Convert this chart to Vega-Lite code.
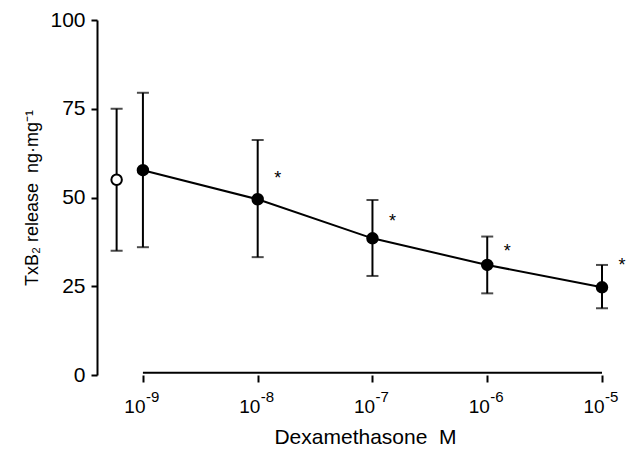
{
  "$schema": "https://vega.github.io/schema/vega-lite/v6.json",
  "autosize": "none",
  "width": 505,
  "height": 355,
  "padding": {"left": 97, "top": 20, "right": 25, "bottom": 74},
  "background": "white",
  "config": {
    "view": {"stroke": null},
    "font": "Liberation Sans",
    "axis": {"grid": false, "domainColor": "black", "tickColor": "black", "labelColor": "black", "titleColor": "black", "domainWidth": 2, "tickWidth": 2, "titleFontWeight": "normal"},
    "axisX": {"domain": false, "tickSize": 7, "labels": false, "titleFontSize": 21, "titlePadding": 43, "titleX": 268},
    "axisY": {"tickSize": 6, "labelFontSize": 21, "labelPadding": 6, "titleFontSize": 18, "titlePadding": 8}
  },
  "datasets": {
    "ticks": [
      {"dose": 1e-9, "exp": "-9"},
      {"dose": 1e-8, "exp": "-8"},
      {"dose": 1e-7, "exp": "-7"},
      {"dose": 1e-6, "exp": "-6"},
      {"dose": 1e-5, "exp": "-5"}
    ]
  },
  "data": {
    "values": [
      {"dose": 5.9e-10, "mean": 55, "lo": 35, "hi": 75, "group": "control"},
      {"dose": 1e-9, "mean": 57.7, "lo": 36, "hi": 79.5, "group": "dex"},
      {"dose": 1e-8, "mean": 49.5, "lo": 33.2, "hi": 66.2, "group": "dex", "star": 56.3},
      {"dose": 1e-7, "mean": 38.5, "lo": 27.9, "hi": 49.3, "group": "dex", "star": 44.2},
      {"dose": 1e-6, "mean": 31, "lo": 23, "hi": 39, "group": "dex", "star": 35.8},
      {"dose": 1e-5, "mean": 24.7, "lo": 18.8, "hi": 31, "group": "dex", "star": 31.8}
    ]
  },
  "encoding": {
    "x": {
      "field": "dose", "type": "quantitative",
      "scale": {"type": "log", "domain": [3.98e-10, 1e-5], "nice": false},
      "axis": {"values": [1e-9, 1e-8, 1e-7, 1e-6, 1e-5], "title": "Dexamethasone \u00a0M"}
    }
  },
  "layer": [
    {
      "data": {"values": [{"a": 1e-9, "b": 1e-5, "y": 0.6}]},
      "mark": {"type": "rule", "strokeWidth": 2, "color": "black"},
      "encoding": {
        "x": {"field": "a", "type": "quantitative"},
        "x2": {"field": "b"},
        "y": {"field": "y", "type": "quantitative"}
      }
    },
    {
      "data": {"name": "ticks"},
      "mark": {"type": "text", "text": "10", "fontSize": 19, "dx": -8, "dy": 38, "baseline": "alphabetic", "align": "center", "color": "black"},
      "encoding": {"y": {"datum": 0, "type": "quantitative"}}
    },
    {
      "data": {"name": "ticks"},
      "mark": {"type": "text", "fontSize": 15, "dx": 3, "dy": 27, "baseline": "alphabetic", "align": "left", "color": "black"},
      "encoding": {"y": {"datum": 0, "type": "quantitative"}, "text": {"field": "exp"}}
    },
    {
      "mark": {"type": "rule", "strokeWidth": 2, "color": "black"},
      "encoding": {
        "y": {"field": "lo", "type": "quantitative", "scale": {"domain": [0, 100], "nice": false},
          "axis": {"values": [0, 25, 50, 75, 100], "title": "TxB₂ release \u00a0ng·mg⁻¹"}},
        "y2": {"field": "hi"}
      }
    },
    {
      "mark": {"type": "tick", "orient": "horizontal", "size": 12, "thickness": 2, "color": "black"},
      "encoding": {"y": {"field": "lo", "type": "quantitative"}}
    },
    {
      "mark": {"type": "tick", "orient": "horizontal", "size": 12, "thickness": 2, "color": "black"},
      "encoding": {"y": {"field": "hi", "type": "quantitative"}}
    },
    {
      "transform": [{"filter": "datum.group === 'dex'"}],
      "mark": {"type": "line", "strokeWidth": 2, "color": "black"},
      "encoding": {"y": {"field": "mean", "type": "quantitative"}}
    },
    {
      "mark": {"type": "point", "size": 110, "strokeWidth": 2, "opacity": 1},
      "encoding": {
        "y": {"field": "mean", "type": "quantitative"},
        "fill": {"field": "group", "type": "nominal", "scale": {"domain": ["control", "dex"], "range": ["white", "black"]}, "legend": null},
        "stroke": {"value": "black"}
      }
    },
    {
      "transform": [{"filter": "isValid(datum.star)"}],
      "mark": {"type": "text", "text": "*", "fontSize": 18, "dx": 20, "dy": 4, "baseline": "middle", "color": "black"},
      "encoding": {"y": {"field": "star", "type": "quantitative"}}
    }
  ]
}
